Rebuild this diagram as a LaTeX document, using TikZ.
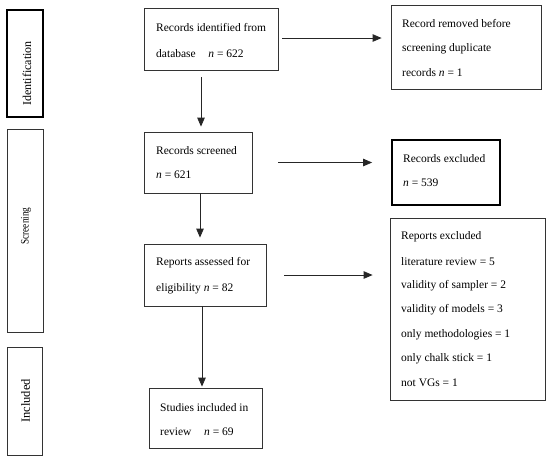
\documentclass[tikz,border=0pt]{standalone}
\usepackage{fontspec}
\setmainfont{Liberation Serif}
\usetikzlibrary{arrows.meta}
\begin{document}
\begin{tikzpicture}[x=1pt,y=-1pt,
  box/.style={draw=black!80, line width=0.8pt, rectangle, inner sep=0pt},
  thickbox/.style={draw=black, line width=1.8pt, rectangle, inner sep=0pt},
  txt/.style={anchor=west, inner sep=0pt, font=\fontsize{11.5}{13}\selectfont},
  side/.style={rotate=90, inner sep=0pt},
  arr/.style={draw=black!85, line width=0.8pt, -{Triangle[length=9pt,width=7.5pt]}}]
\useasboundingbox (0,0) rectangle (550,459);
% stage boxes
\node[thickbox, minimum width=36pt, minimum height=107pt] (idb) at (25,63.5) {};
\node[box, minimum width=36pt, minimum height=203pt] (scb) at (25,230.5) {};
\node[box, minimum width=35pt, minimum height=108pt] (inb) at (24.5,401) {};
\node[side, font=\fontsize{12}{14}\selectfont] (idl) at (27,73.5) {Identification};
\node[side, font=\fontsize{11.5}{14}\selectfont] (scl) at (26,226) {\scalebox{0.8}[1]{Screening}};
\node[side, font=\fontsize{12.5}{14}\selectfont] (inl) at (25.5,401) {Included};
% main boxes
\node[box, minimum width=134pt, minimum height=62pt] (rid) at (211,39) {};
\node[box, minimum width=150pt, minimum height=84pt] (rrm) at (466,47) {};
\node[box, minimum width=108pt, minimum height=61pt] (rs) at (198,162.5) {};
\node[thickbox, minimum width=108pt, minimum height=65pt] (rex) at (446,172.5) {};
\node[box, minimum width=122pt, minimum height=62pt] (ra) at (205,275) {};
\node[box, minimum width=155pt, minimum height=182pt] (repx) at (467.5,309) {};
\node[box, minimum width=113pt, minimum height=60pt] (st) at (205.5,418) {};
% texts
\node[txt] (t1a) at (156,28) {Records identified from};
\node[txt] (t1b) at (156,53.5) {database\hspace{1.1em}\textit{n} = 622};
\node[txt] (t2a) at (402,24) {Record removed before};
\node[txt] (t2b) at (402,49) {screening duplicate};
\node[txt] (t2c) at (402,73) {records \textit{n} = 1};
\node[txt] (t3a) at (156,151) {Records screened};
\node[txt] (t3b) at (156,175) {\textit{n} = 621};
\node[txt] (t4a) at (403,159) {Records excluded};
\node[txt] (t4b) at (403,183) {\textit{n} = 539};
\node[txt] (t5a) at (156,263) {Reports assessed for};
\node[txt] (t5b) at (156,289) {eligibility \textit{n} = 82};
\node[txt] (t6a) at (160,408) {Studies included in};
\node[txt] (t6b) at (160,432) {review\hspace{1.1em}\textit{n} = 69};
\node[txt] (t7a) at (401,237) {Reports excluded};
\node[txt] (t7b) at (401,262) {literature review = 5};
\node[txt] (t7c) at (401,286) {validity of sampler = 2};
\node[txt] (t7d) at (401,310) {validity of models = 3};
\node[txt] (t7e) at (401,335) {only methodologies = 1};
\node[txt] (t7f) at (401,359) {only chalk stick = 1};
\node[txt] (t7g) at (401,383) {not VGs = 1};
% arrow columns
\coordinate (c1) at (201,0);
\coordinate (c2) at (200,0);
\coordinate (c3) at (202,0);
\coordinate (r1) at (0,38);
% arrows
\draw[arr, shorten <=4pt, shorten >=9pt] (rid.east |- r1) -- (rrm.west |- r1);
\draw[arr, shorten <=7pt, shorten >=5pt] (rid.south -| c1) -- (rs.north -| c1);
\draw[arr, shorten <=26pt, shorten >=19pt] (rs.east) -- (rex.west |- rs.east);
\draw[arr, shorten <=0pt, shorten >=6pt] (rs.south -| c2) -- (ra.north -| c2);
\draw[arr, shorten <=18pt, shorten >=17pt] (ra.east) -- (repx.west |- ra.east);
\draw[arr, shorten <=0pt, shorten >=1pt] (ra.south -| c3) -- (st.north -| c3);
\end{tikzpicture}
\end{document}
